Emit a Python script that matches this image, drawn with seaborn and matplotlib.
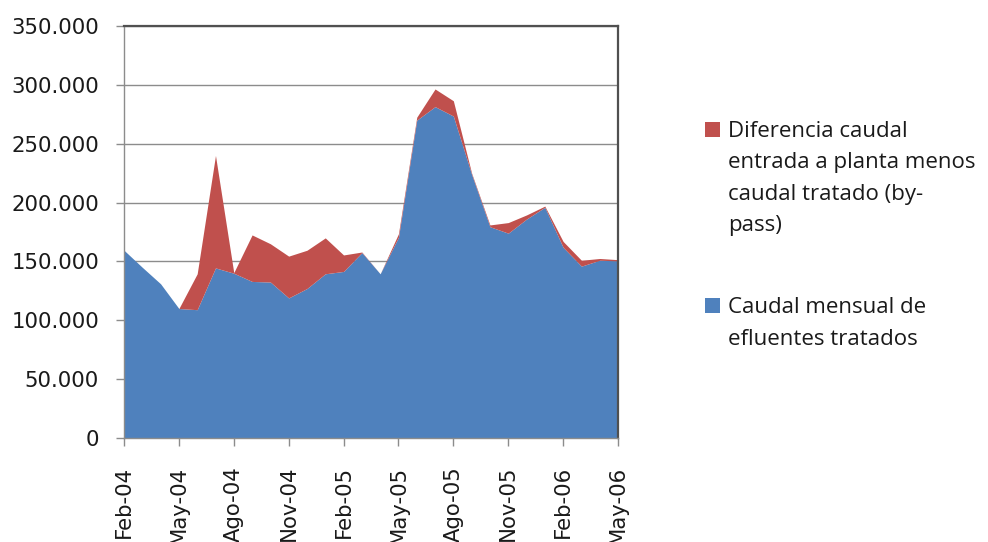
import numpy as np
import matplotlib
matplotlib.use("Agg")
import matplotlib.pyplot as plt
from matplotlib.patches import Rectangle
from matplotlib.ticker import FuncFormatter, FixedLocator
import seaborn as sns

# Monthly series, Feb-04 .. May-06
months = ["Feb-04", "Mar-04", "Abr-04", "May-04", "Jun-04", "Jul-04", "Ago-04",
          "Sep-04", "Oct-04", "Nov-04", "Dic-04", "Ene-05", "Feb-05", "Mar-05",
          "Abr-05", "May-05", "Jun-05", "Jul-05", "Ago-05", "Sep-05", "Oct-05",
          "Nov-05", "Dic-05", "Ene-06", "Feb-06", "Mar-06", "Abr-06", "May-06"]

caudal_tratado = [159500, 145000, 131000, 110000, 109000, 144500, 140000,
                  133000, 132500, 119000, 127000, 139500, 141500, 157500,
                  139500, 170500, 270000, 281500, 273500, 224000, 179500,
                  174000, 186000, 196000, 162000, 146000, 151000, 150500]

diferencia_bypass = [0, 0, 0, 0, 30500, 95500, 500,
                     39500, 32500, 35500, 32500, 30500, 14000, 500,
                     0, 3000, 2500, 15000, 13000, 1000, 1500,
                     9000, 3500, 1000, 5000, 5000, 1500, 1000]

tick_labels = ["Feb-04", "May-04", "Ago-04", "Nov-04", "Feb-05",
               "May-05", "Ago-05", "Nov-05", "Feb-06", "May-06"]

label_bypass = ["Diferencia caudal", "entrada a planta menos",
                "caudal tratado (by-", "pass)"]
label_tratado = ["Caudal mensual de", "efluentes tratados"]

color_blue = "#4F81BD"
color_red = "#C0504D"

sns.set_theme(style="white")
plt.rcParams["font.family"] = ["DejaVu Sans"]

W, H = 988, 542
fig = plt.figure(figsize=(W / 100, H / 100), dpi=100)
fig.patch.set_facecolor("white")

left, right, top, bottom = 124, 618, 26, 438
ax = fig.add_axes([left / W, 1 - bottom / H, (right - left) / W, (bottom - top) / H])

x = np.arange(len(months))
ax.stackplot(x, caudal_tratado, diferencia_bypass,
             colors=[color_blue, color_red], linewidth=0, zorder=2)

ax.set_xlim(0, len(months) - 1)
ax.set_ylim(0, 350000)

ax.yaxis.set_major_locator(FixedLocator(np.arange(0, 350001, 50000)))
ax.yaxis.set_major_formatter(FuncFormatter(lambda v, p: f"{v:,.0f}".replace(",", ".")))
ax.grid(axis="y", color="#8c8c8c", linewidth=1.0, zorder=1)
ax.set_axisbelow(True)

tick_pos = [months.index(t) for t in tick_labels]
ax.set_xticks(tick_pos)
ax.set_xticklabels(tick_labels, rotation=90)

ax.tick_params(axis="y", which="major", direction="out", length=6, width=1,
               color="#8c8c8c", pad=12, labelsize=15.3, labelcolor="#1a1a1a", left=True)
ax.tick_params(axis="x", which="major", direction="out", length=6, width=1,
               color="#8c8c8c", pad=14, labelsize=15.3, labelcolor="#1a1a1a", bottom=True)

for side in ["left", "bottom"]:
    ax.spines[side].set_color("#8c8c8c")
    ax.spines[side].set_linewidth(1.0)
for side in ["top", "right"]:
    ax.spines[side].set_color("#505050")
    ax.spines[side].set_linewidth(1.6)
    ax.spines[side].set_visible(True)

# Legend drawn at the right of the plot area
def px_to_fig(px, py):
    return px / W, 1 - py / H

legend_font = dict(family=["Open Sans", "DejaVu Sans"], fontsize=16, color="#1a1a1a")
entries = [
    (color_red, label_bypass, 122, 136.7),
    (color_blue, label_tratado, 298, 313.3),
]
line_step = 31.5
for color, lines, sq_top, first_base in entries:
    fx, fy = px_to_fig(705, sq_top + 15)
    fig.patches.append(Rectangle((fx, fy), 15 / W, 15 / H, transform=fig.transFigure,
                                 facecolor=color, edgecolor="none"))
    for i, line in enumerate(lines):
        tx, ty = px_to_fig(728, first_base + i * line_step)
        fig.text(tx, ty, line, ha="left", va="baseline", **legend_font)

fig.savefig("out.png", dpi=100, facecolor="white")
